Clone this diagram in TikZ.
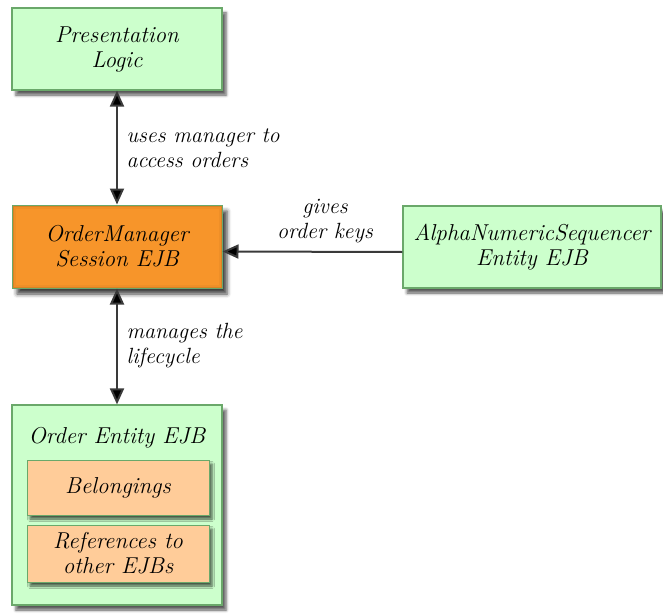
\documentclass[tikz,border=0pt]{standalone}
\usetikzlibrary{arrows.meta,shadows.blur}
\definecolor{boxgreen}{HTML}{CCFFCC}
\definecolor{edgegreen}{HTML}{6AA86A}
\definecolor{mgrorange}{HTML}{F7952A}
\definecolor{peach}{HTML}{FFCC99}
\definecolor{linkgray}{HTML}{3A3A3A}
\begin{document}
\begin{tikzpicture}[x=1pt,y=-1pt,
  txt/.style={font=\fontsize{23}{25}\selectfont\itshape, text=black, align=center},
  greenbox/.style={txt, draw=edgegreen, line width=1.2pt, fill=boxgreen,
    blur shadow={shadow xshift=4pt, shadow yshift=-5pt, shadow blur radius=3pt, shadow opacity=65}},
  mgrbox/.style={txt, draw=edgegreen, line width=1pt, fill=mgrorange,
    path picture={
      \draw[mgrorange!70!black, line width=3pt, opacity=0.35]
        (path picture bounding box.south west) rectangle (path picture bounding box.north east);
      \draw[mgrorange!80!black, line width=7pt, opacity=0.18]
        (path picture bounding box.south west) rectangle (path picture bounding box.north east);},
    blur shadow={shadow xshift=5pt, shadow yshift=-6pt, shadow blur radius=4pt, shadow opacity=75}},
  partbox/.style={txt, draw=edgegreen, line width=1pt, fill=peach,
    blur shadow={shadow xshift=3pt, shadow yshift=-4pt, shadow blur radius=2.5pt, shadow opacity=65}},
  link/.style={draw=linkgray, line width=2pt, -{Triangle[length=16pt,width=14pt,fill=black]}},
  biglink/.style={draw=linkgray, line width=2pt,
    {Triangle[length=16pt,width=14pt,fill=black]}-{Triangle[length=16pt,width=14pt,fill=black]}},
  lbl/.style={font=\fontsize{22}{25}\selectfont\itshape, text=black, align=left, anchor=west}
]
\useasboundingbox (0,0) rectangle (663,615);

% components
\node[greenbox, minimum width=210pt, minimum height=82pt] (pres) at (117,49) {Presentation\\Logic};
\node[mgrbox, minimum width=210pt, minimum height=83pt] (mgr) at (117,246.5) {OrderManager\\Session EJB};
\node[greenbox, minimum width=258pt, minimum height=82pt] (alpha) at (532,247) {AlphaNumericSequencer\\Entity EJB};
\node[greenbox, minimum width=210pt, minimum height=200pt] (order) at (117,505) {};
\node[txt] (ordertitle) at (117,438) {Order Entity EJB};
\node[partbox, minimum width=182pt, minimum height=55pt] (belong) at (118,487.5) {Belongings};
\node[partbox, minimum width=182pt, minimum height=57pt] (refs) at (118,553.5) {References to\\other EJBs};

% connectors
\draw[biglink] (pres) -- (mgr);
\draw[biglink] (mgr) -- (order);
\draw[link] ([yshift=-5pt]alpha.west) -- ([yshift=-5pt]mgr.east);

% connector labels
\node[lbl] (usesl) at (123,148) {uses manager to\\access orders};
\node[lbl] (lifel) at (123,346) {manages the\\lifecycle};
\node[font=\fontsize{22}{25}\selectfont\itshape, text=black, align=center] (keysl) at (325,221) {gives\\order keys};
\end{tikzpicture}
\end{document}
